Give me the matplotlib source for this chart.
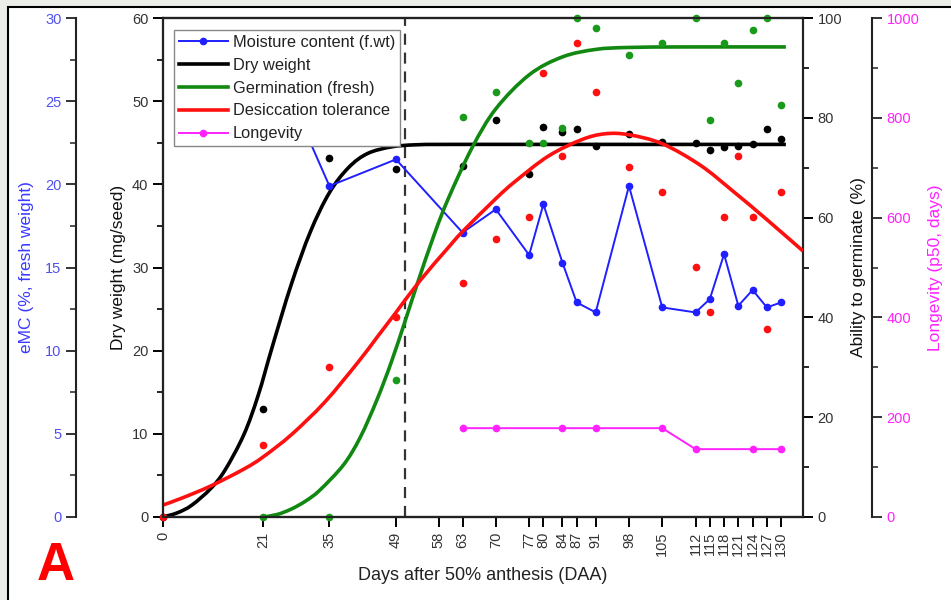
import matplotlib.pyplot as plt
from matplotlib.patches import Rectangle, PathPatch
from matplotlib.path import Path
from matplotlib.ticker import MultipleLocator

plt.rcParams['font.family'] = ['Liberation Sans', 'DejaVu Sans']

# sampling days
days = [21, 35, 49, 63, 70, 77, 80, 84, 87, 91, 98, 105, 112, 115, 118, 121, 124, 127, 130]
xtick_days = [0, 21, 35, 49, 58, 63, 70, 77, 80, 84, 87, 91, 98, 105, 112, 115, 118, 121, 124, 127, 130]

# moisture content (% fresh weight)
emc = [29.0, 19.9, 21.5, 17.1, 18.5, 15.75, 18.8, 15.3, 12.9, 12.3, 19.9, 12.6,
       12.3, 13.1, 15.8, 12.7, 13.65, 12.6, 12.9]

# dry weight points (mg/seed)
dw_days = [0, 21, 35, 49, 63, 70, 77, 80, 84, 87, 91, 98, 105, 112, 115, 118, 121, 124, 127, 130]
dw_pts = [0, 13.0, 43.2, 41.8, 42.2, 47.7, 41.3, 46.9, 46.3, 46.6, 44.6, 46.0, 45.1,
          45.0, 44.1, 44.5, 44.6, 44.8, 46.6, 45.5]

# germination points (%)
germ_pts = [0, 0, 27.5, 80.2, 85.2, 75, 75, 78, 100, 98, 92.6, 95, 100, 79.6, 95,
            87, 97.6, 100, 82.6]

# desiccation tolerance points (%)
dt_days = [0] + days
dt_pts = [0, 14.4, 30.1, 40.1, 46.9, 55.7, 60.1, 89, 72.3, 95, 85.2, 70.1, 65.1,
          50.1, 41.1, 60.1, 72.3, 60.1, 37.7, 65.1]

# longevity p50 (days)
lon_days = [63, 70, 84, 91, 105, 112, 124, 130]
lon_vals = [178, 178, 178, 178, 178, 136, 136, 136]

# fitted curves
dw_fit_x = [0, 3, 6, 10, 13, 17, 20, 23, 27, 31, 35, 39, 43, 48, 53, 60, 80, 131]
dw_fit_y = [0, 0.5, 1.4, 3.4, 5.6, 9.9, 14.6, 20.5, 28, 34.3, 39.0, 42.0, 43.7, 44.5,
            44.75, 44.8, 44.8, 44.8]
germ_fit_x = [21, 24, 27, 30, 33, 38, 41.5, 45, 48, 51, 53.5, 57, 60, 65, 70, 77, 84, 91,
              98, 110, 131]
germ_fit_y = [0, 0.5, 1.6, 3.2, 5.4, 10.5, 16, 23.5, 31, 39.5, 46.8, 56.5, 63.8, 74, 81.8,
              88.6, 92.2, 93.7, 94.1, 94.2, 94.2]
dt_fit_x = [0, 4, 10, 17, 21, 27, 34, 41, 45, 49, 54, 60, 63, 70, 74, 81, 88, 93, 98,
            105, 113, 120, 127, 134.6]
dt_fit_y = [2.4, 3.8, 6.2, 9.6, 12.0, 16.5, 23.0, 31.0, 36.0, 41.0, 47.3, 54.0, 57.2,
            63.8, 67.2, 72.3, 75.6, 76.8, 76.6, 74.8, 70.5, 65.2, 59.6, 53.3]

BLUE = '#1f1fff'
GREEN = '#118811'
RED = '#ff1010'
MAG = '#ff22ff'
TXT = '#333333'


def smooth_curve(a, xs, ys, **kw):
    # draw the read points as a smooth bezier path (Catmull-Rom control points)
    pts = list(zip(xs, ys))
    verts = [pts[0]]
    codes = [Path.MOVETO]
    n = len(pts)
    for i in range(n - 1):
        p0 = pts[max(i - 1, 0)]
        p1 = pts[i]
        p2 = pts[i + 1]
        p3 = pts[min(i + 2, n - 1)]
        c1 = (p1[0] + (p2[0] - p0[0]) / 6, p1[1] + (p2[1] - p0[1]) / 6)
        c2 = (p2[0] - (p3[0] - p1[0]) / 6, p2[1] - (p3[1] - p1[1]) / 6)
        verts += [c1, c2, p2]
        codes += [Path.CURVE4] * 3
    patch = PathPatch(Path(verts, codes), fill=False, capstyle='butt', **kw)
    a.add_patch(patch)
    return patch


fig = plt.figure(figsize=(9.51, 6), dpi=100)
fig.patch.set_facecolor('#eceee9')
fig.patches.append(Rectangle((8 / 951, -0.1), 1.2, 1.1 - 7 / 600, transform=fig.transFigure,
                             facecolor='white', edgecolor='black', linewidth=1.5, zorder=-1))

ax = fig.add_axes([163 / 951, 1 - 517 / 600, 640 / 951, 499 / 600])
ax.patch.set_alpha(0)
ax_emc = ax.twinx()
ax_g = ax.twinx()
ax_l = ax.twinx()

# dry weight axis (left)
smooth_curve(ax, dw_fit_x, dw_fit_y, edgecolor='black', lw=2.6, zorder=3)
ax.plot(dw_days, dw_pts, 'o', color='black', ms=4.5, clip_on=False, zorder=4)
ax.set_xlim(0, 134.6)
ax.set_ylim(0, 60)
ax.yaxis.set_major_locator(MultipleLocator(10))
ax.yaxis.set_minor_locator(MultipleLocator(5))
ax.set_ylabel('Dry weight (mg/seed)', fontsize=12.5, color='#111111', labelpad=4)
ax.set_xticks(xtick_days)
ax.set_xticklabels([str(d) for d in xtick_days], rotation=90, fontsize=10.5, color=TXT)
ax.set_xlabel('Days after 50% anthesis (DAA)', fontsize=13, color='#222222', labelpad=8,
              family=['Liberation Sans Narrow', 'Liberation Sans'])
ax.axvline(51, color='#333333', lw=1.6, ls=(0, (5, 3.5)), zorder=2)

# eMC axis (far left)
ax_emc.spines['left'].set_position(('axes', -0.136))
ax_emc.spines['left'].set_visible(True)
ax_emc.spines['right'].set_visible(False)
ax_emc.yaxis.set_ticks_position('left')
ax_emc.yaxis.set_label_position('left')
ax_emc.plot(days, emc, '-o', color=BLUE, lw=1.4, ms=4.5, zorder=3)
ax_emc.set_ylim(0, 30)
ax_emc.yaxis.set_major_locator(MultipleLocator(5))
ax_emc.yaxis.set_minor_locator(MultipleLocator(2.5))
ax_emc.set_ylabel('eMC (%, fresh weight)', fontsize=12.5, color='#3a3aff', labelpad=8)
ax_emc.tick_params(axis='y', colors='#5050ee', labelsize=10.5)
ax_emc.tick_params(axis='y', which='both', color='#333333')

# germination axis (right)
smooth_curve(ax_g, germ_fit_x, germ_fit_y, edgecolor=GREEN, lw=2.6, zorder=3)
ax_g.plot(days, germ_pts, 'o', color='#1a9a1a', ms=4.5, clip_on=False, zorder=4)
smooth_curve(ax_g, dt_fit_x, dt_fit_y, edgecolor=RED, lw=2.6, zorder=3)
ax_g.plot(dt_days, dt_pts, 'o', color=RED, ms=4.5, clip_on=False, zorder=4)
ax_g.set_ylim(0, 100)
ax_g.yaxis.set_major_locator(MultipleLocator(20))
ax_g.yaxis.set_minor_locator(MultipleLocator(10))
ax_g.set_ylabel('Ability to germinate (%)', fontsize=12.5, color='#111111', labelpad=6)

# longevity axis (far right)
ax_l.spines['right'].set_position(('axes', 1.108))
ax_l.plot(lon_days, lon_vals, '-o', color=MAG, lw=1.4, ms=4.5, zorder=3)
ax_l.set_ylim(0, 1000)
ax_l.yaxis.set_major_locator(MultipleLocator(200))
ax_l.yaxis.set_minor_locator(MultipleLocator(100))
ax_l.set_ylabel('Longevity (p50, days)', fontsize=12.5, color=MAG, labelpad=6)
ax_l.tick_params(axis='y', colors=MAG, labelsize=10.5)
ax_l.tick_params(axis='y', which='both', color='#333333')

for a in (ax, ax_emc, ax_g, ax_l):
    for s in a.spines.values():
        s.set_linewidth(1.5)
        s.set_color('#222222')
    a.tick_params(which='major', length=7, width=1.4, direction='out')
    a.tick_params(which='minor', length=4, width=1.2, direction='out')
ax.tick_params(axis='y', labelsize=10.5, labelcolor=TXT)
ax_g.tick_params(axis='y', labelsize=10.5, labelcolor=TXT)

# legend
handles = [
    plt.Line2D([], [], color=BLUE, lw=1.4, marker='o', ms=4.5),
    plt.Line2D([], [], color='black', lw=2.6),
    plt.Line2D([], [], color=GREEN, lw=2.6),
    plt.Line2D([], [], color=RED, lw=2.6),
    plt.Line2D([], [], color=MAG, lw=1.4, marker='o', ms=4.5),
]
labels = ['Moisture content (f.wt)', 'Dry weight', 'Germination (fresh)',
          'Desiccation tolerance', 'Longevity']
leg = ax_l.legend(handles, labels, loc='upper left', bbox_to_anchor=(0.017, 0.976),
                  borderaxespad=0, fontsize=11.8, fancybox=False, framealpha=1,
                  edgecolor='#888888', handlelength=3.0, handletextpad=0.3,
                  labelspacing=0.48, borderpad=0.3)
leg.get_frame().set_linewidth(1.0)
for t in leg.get_texts():
    t.set_color('#222222')

fig.text(56 / 951, 1 - 566 / 600, 'A', color='red', fontsize=38, fontweight='bold',
         ha='center', va='center')

fig.savefig('out.png', dpi=100, facecolor=fig.get_facecolor())
